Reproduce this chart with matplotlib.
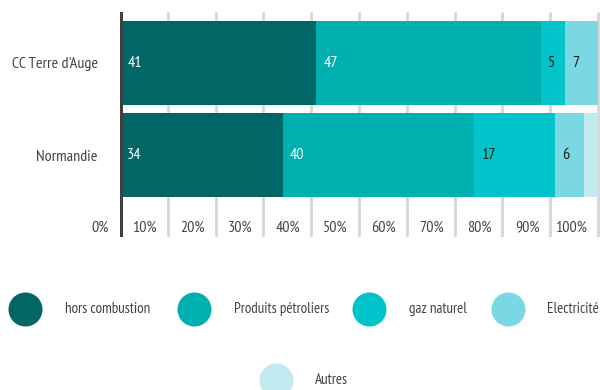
import matplotlib
import matplotlib.pyplot as plt

matplotlib.use("Agg")

# Emissions par source d'énergie (%), arrondies
territoires = ["CC Terre d'Auge", "Normandie"]
sources = ["hors combustion", "Produits pétroliers", "gaz naturel", "Electricité", "Autres"]
parts_cc = [41, 47, 5, 7, 0]
parts_normandie = [34, 40, 17, 6, 3]
x_ticks = [0, 10, 20, 30, 40, 50, 60, 70, 80, 90, 100]
x_tick_labels = ["0%", "10%", "20%", "30%", "40%", "50%", "60%", "70%", "80%", "90%", "100%"]

couleurs = ["#006666", "#00b0b0", "#00c4c9", "#7ad8e5", "#c0eaf0"]
couleurs_texte = ["white", "white", "#1a1a1a", "#1a1a1a", "#1a1a1a"]
GRIS = "#444444"

plt.rcParams["font.family"] = ["PT Sans Narrow", "DejaVu Sans"]

W, H = 600, 390
fig = plt.figure(figsize=(W / 100, H / 100), dpi=100)

# zone du graphique en pixels : x 120 -> 600, y 12 -> 237
ax = fig.add_axes([120 / W, 1 - 237 / H, 480 / W, 225 / H])
ax.set_xlim(0, 100.4)
ax.set_ylim(-0.891, 1.554)

ypos = [1, 0]
hauteur = 84 / 92
for y, parts in zip(ypos, [parts_cc, parts_normandie]):
    gauche = 0
    for i, v in enumerate(parts):
        if v > 0:
            ax.barh(y, v, left=gauche, height=hauteur, color=couleurs[i], zorder=2, linewidth=0)
            if v >= 4:
                ax.text(gauche + 1.5, y, f"{v}", ha="left", va="center",
                        color=couleurs_texte[i], fontsize=11.5, zorder=3)
        gauche += v

# grille verticale et axe zéro
ax.vlines(x_ticks[1:], -0.891, 1.554, color="#d9d9d9", linewidth=2.2, zorder=1)
ax.axvline(0, color="#404040", linewidth=3.6, zorder=4)

# étiquettes de l'axe x, à gauche de chaque ligne de grille
for t, lab in zip(x_ticks, x_tick_labels):
    ax.text(t - 2.3, 0.024, lab, transform=ax.get_xaxis_transform(),
            ha="right", va="baseline", color=GRIS, fontsize=11.5, zorder=3)

ax.set_yticks(ypos)
ax.set_yticklabels(territoires, fontsize=11.5, color=GRIS)
ax.tick_params(axis="y", length=0, pad=16)
ax.set_xticks([])
for s in ax.spines.values():
    s.set_visible(False)

# légende : cercles et libellés, en pixels
lax = fig.add_axes([0, 0, 1, 1])
lax.set_xlim(0, W)
lax.set_ylim(H, 0)
lax.axis("off")
legende_cercles = [(24.5, 309), (194, 309), (368.5, 309), (508, 309), (275.5, 380)]
legende_textes = [(65, 309), (234, 309), (409, 309), (547, 309), (315, 380)]
for nom, c, (cx, cy), (tx, ty) in zip(sources, couleurs, legende_cercles, legende_textes):
    lax.scatter([cx], [cy], s=600, color=c, linewidths=0, clip_on=False)
    lax.text(tx, ty, nom, ha="left", va="center", color=GRIS, fontsize=10.8)

fig.savefig("out.png", dpi=100)
